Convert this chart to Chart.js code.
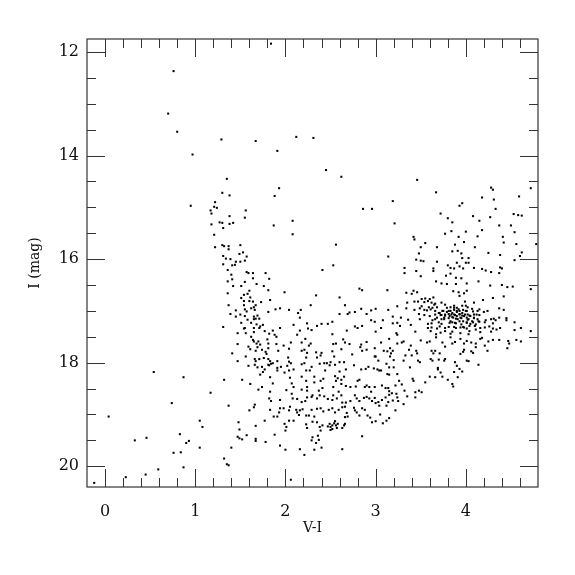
<!DOCTYPE html>
<html>
<head>
<meta charset="utf-8">
<script src="https://cdn.jsdelivr.net/npm/chart.js@4.4.1/dist/chart.umd.min.js"></script>
<style>
  html, body { margin: 0; padding: 0; background: #fff; }
  #wrap { width: 575px; height: 575px; }
</style>
</head>
<body>
<div id="wrap"><canvas id="cmd" width="575" height="575"></canvas></div>
<script>
// bright stars, top of the diagram
const brightVI = [0.76,0.70,0.80,1.29,0.97,1.35,1.84,1.67,2.12,2.31,1.91,2.45,2.62,3.46];
const brightI  = [12.37,13.19,13.54,13.69,13.98,14.45,11.84,13.72,13.64,13.66,13.91,14.28,14.41,14.47];

// blue edge, upper part
const blueUpVI = [1.30,1.38,0.95,1.22,1.21,1.24,1.17,1.18,1.38,1.18,
                  1.27,1.30,1.38,1.42,1.31,1.21,1.22,1.30,1.32,1.37,
                  1.37,1.31,1.34,1.39,1.31,1.41,1.44,1.36,1.40,1.41,
                  1.36,1.42,1.36,1.37,1.45,1.39,1.45,1.31];
const blueUpI  = [14.72,14.77,14.97,14.90,14.99,15.01,15.06,15.12,15.17,15.33,
                  15.29,15.30,15.32,15.30,15.40,15.53,15.77,15.73,15.75,15.75,
                  15.81,15.94,15.99,16.00,16.10,16.12,16.11,16.21,16.30,16.39,
                  16.43,16.52,16.66,16.89,16.99,17.06,17.11,17.31];

// blue edge, faint part
const blueLowVI = [1.47,1.47,1.41,1.47,0.54,0.87,1.32,1.17,0.74,1.37,
                   0.04,1.05,1.08,1.48,1.49,0.83,0.46,0.33,1.47,1.49,
                   0.93,0.90,1.05,1.40,0.76,0.84,1.32,1.35,1.37,0.87,
                   0.59,0.45,0.23,-0.12,2.06];
const blueLowI  = [17.43,17.64,17.82,17.97,18.18,18.28,18.33,18.58,18.78,18.83,
                   19.04,19.12,19.24,19.15,19.29,19.38,19.45,19.50,19.43,19.46,
                   19.51,19.55,19.64,19.64,19.74,19.73,19.85,19.96,19.98,20.02,
                   20.06,20.16,20.21,20.32,20.26];

// middle field, I < 17.4
const midVI = [1.93,1.88,1.56,1.55,2.86,2.96,1.87,2.08,2.08,1.50,
               2.56,1.53,1.49,1.57,1.55,1.45,1.50,3.14,2.53,2.41,
               1.57,1.59,1.64,1.78,1.64,1.82,1.55,1.68,1.51,1.76,
               1.60,1.81,1.58,1.54,1.51,1.99,2.34,2.82,2.85,3.13,
               1.61,1.83,2.60,1.54,1.60,1.64,1.67,1.73,1.54,1.65,
               1.62,1.66,1.55,1.57,1.81,1.89,1.94,2.04,2.28,2.17,
               2.14,2.66,2.84,3.00,2.95,3.14,1.50,1.55,1.65,1.69,
               1.67,1.71,1.65,1.58,2.16,2.77,2.71,2.69,2.60,2.90,
               1.51,1.62,1.68,1.75,1.55,1.54,1.65,1.72,1.71,1.86,
               1.77,1.94,2.09,2.24,2.25,2.29,2.35,2.40,2.47,2.52,
               2.95,2.99,3.08,2.77,2.80,2.85,3.06,2.16,2.68,3.00];
const midI  = [14.63,14.78,15.06,15.20,15.03,15.03,15.35,15.26,15.52,15.73,
               15.72,15.87,15.90,15.95,16.03,16.05,16.05,15.95,16.12,16.21,
               16.25,16.27,16.27,16.27,16.37,16.38,16.44,16.48,16.52,16.52,
               16.61,16.60,16.67,16.69,16.75,16.64,16.70,16.57,16.60,16.60,
               16.74,16.79,16.74,16.81,16.81,16.82,16.89,16.83,16.89,16.93,
               16.95,16.98,16.97,17.01,17.02,16.97,16.95,16.98,16.89,16.98,
               17.04,16.89,16.96,16.96,16.99,16.98,17.07,17.10,17.11,17.09,
               17.15,17.15,17.16,17.17,17.13,17.02,17.03,17.06,17.06,17.06,
               17.23,17.23,17.26,17.27,17.33,17.34,17.33,17.30,17.33,17.38,
               17.39,17.33,17.27,17.24,17.34,17.37,17.29,17.25,17.25,17.21,
               17.18,17.21,17.18,17.30,17.33,17.29,17.33,17.38,17.38,17.40];

// red giants and clump, I < 17.4
const redVI = [4.28,4.30,4.72,3.67,3.19,4.18,4.31,4.59,3.96,3.93,
               4.33,3.72,3.80,4.08,4.27,4.53,4.58,4.62,3.21,3.85,
               4.15,4.37,4.50,4.18,4.54,3.42,3.43,3.77,3.84,4.00,
               3.92,4.13,4.41,3.55,4.42,4.56,4.78,3.50,3.68,3.88,
               3.98,4.10,3.91,3.85,3.48,3.95,4.25,4.38,4.62,4.60,
               3.45,3.50,3.53,3.68,3.96,4.03,4.00,4.03,4.54,3.32,
               3.45,3.64,3.64,3.80,3.83,3.90,3.93,3.87,3.97,4.09,
               4.18,4.22,4.28,4.38,4.40,3.32,4.37,3.83,3.50,3.78,
               3.89,3.95,3.67,3.73,3.79,3.89,4.01,4.14,4.27,4.40,
               4.46,4.52,4.72,3.34,3.42,3.46,3.40,3.86,3.92,4.01,
               3.98,3.93,4.42,4.19,4.30,3.35,3.51,3.55,3.60,3.64,
               3.43,3.47,3.54,3.58,3.62,3.66,3.73,3.99,4.09,3.24,
               3.34,3.49,3.51,3.59,3.63,3.68,3.77,3.83,3.87,3.90,
               3.96,4.00,4.02,4.07,4.15,4.37,4.42,3.43,3.54,3.57,
               3.66,3.71,3.74,3.79,3.83,3.87,3.90,3.93,3.97,4.01,
               4.08,4.13,4.20,4.24,3.19,3.28,3.48,3.54,3.60,3.66,
               3.72,3.77,3.81,3.84,3.88,3.93,3.96,3.99,4.04,4.09,
               4.15,4.28,4.31,4.37,4.45,3.36,3.49,3.63,3.66,3.73,
               3.76,3.81,3.85,3.89,3.95,4.02,4.09,4.13,4.22,4.33,
               4.45,3.19,3.24,3.39,3.27,3.58,3.62,3.70,3.73,3.82,
               3.85,3.89,3.93,4.01,4.05,4.08,4.15,4.21,4.30,4.54,
               4.61,3.58,3.62,3.68,3.71,3.77,3.81,3.87,3.89,3.94,
               3.97,4.01,4.10,4.16,4.21,4.26,4.30,4.34,4.38,4.54,
               4.72,3.44,3.61,3.77,3.85,4.04,4.28];
const redI  = [14.62,14.66,14.63,14.71,14.88,14.81,14.85,14.79,14.92,14.97,
               15.03,15.12,15.21,15.17,15.19,15.13,15.15,15.16,15.31,15.29,
               15.26,15.35,15.35,15.44,15.48,15.57,15.62,15.51,15.46,15.47,
               15.57,15.56,15.57,15.69,15.68,15.71,15.71,15.77,15.77,15.72,
               15.67,15.77,15.84,15.85,15.89,15.89,15.88,15.92,15.87,15.94,
               16.01,16.03,16.04,16.05,15.98,15.98,16.07,16.07,16.02,16.17,
               16.23,16.18,16.23,16.12,16.17,16.07,16.14,16.18,16.18,16.17,
               16.19,16.22,16.25,16.16,16.18,16.27,16.27,16.28,16.33,16.32,
               16.36,16.37,16.43,16.47,16.48,16.48,16.47,16.43,16.51,16.50,
               16.54,16.53,16.58,16.65,16.61,16.64,16.67,16.62,16.64,16.61,
               16.66,16.71,16.72,16.79,16.75,16.84,16.77,16.76,16.77,16.74,
               16.82,16.82,16.83,16.81,16.84,16.86,16.84,16.82,16.84,16.91,
               16.95,16.95,16.91,16.93,16.94,16.93,16.88,16.93,16.90,16.94,
               16.90,16.90,16.93,16.96,16.97,16.95,16.98,16.98,16.98,16.99,
               17.00,17.04,17.00,17.02,17.00,16.98,17.02,17.00,16.98,17.00,
               17.01,17.00,17.02,17.00,17.11,17.13,17.06,17.08,17.10,17.07,
               17.08,17.09,17.06,17.07,17.08,17.07,17.09,17.07,17.09,17.07,
               17.08,17.16,17.15,17.13,17.14,17.17,17.16,17.18,17.16,17.16,
               17.13,17.14,17.12,17.15,17.14,17.17,17.14,17.16,17.18,17.18,
               17.18,17.24,17.23,17.27,17.29,17.25,17.24,17.22,17.25,17.23,
               17.22,17.24,17.20,17.22,17.25,17.22,17.21,17.22,17.24,17.22,
               17.33,17.33,17.32,17.34,17.30,17.33,17.31,17.31,17.33,17.32,
               17.31,17.34,17.29,17.33,17.32,17.30,17.34,17.36,17.33,17.37,
               17.39,17.40,17.39,17.39,17.40,17.39,17.40];

// extra stars in the crowded core of the red clump
const clumpVI = [3.70,3.73,3.75,3.77,3.79,3.81,3.82,3.83,3.85,3.86,
                 3.87,3.87,3.88,3.90,3.90,3.91,3.92,3.93,3.94,3.95,
                 3.96,3.97,3.98,3.98,4.00,4.01,4.01,4.02,4.03,4.04,
                 4.05,4.07,4.09,4.11,4.12,4.14,3.68,3.76,3.61,3.65];
const clumpI  = [17.04,17.08,17.00,17.07,16.94,17.00,17.10,17.20,17.04,17.13,
                 16.94,17.07,17.23,17.00,17.10,17.16,16.97,17.06,17.13,17.26,
                 17.04,17.20,17.10,17.32,17.00,17.13,17.23,17.07,17.16,17.29,
                 17.10,17.20,17.13,17.26,17.07,17.20,17.13,17.16,16.97,16.88];

// faint middle field, I > 17.4
const faintVI = [1.56,1.65,1.82,1.88,1.90,2.13,2.22,2.52,2.64,1.62,
                 1.64,1.65,1.68,1.70,1.72,1.80,1.81,1.90,1.98,2.06,
                 2.18,2.28,2.53,2.56,2.66,2.71,2.84,2.90,3.06,3.15,
                 1.59,1.61,1.67,1.69,1.74,1.78,1.81,1.79,1.92,2.03,
                 2.04,2.18,2.21,2.24,2.26,2.23,2.34,2.39,2.35,2.40,
                 2.52,2.54,2.62,2.74,2.83,2.85,2.90,2.99,3.00,3.09,
                 1.56,1.66,1.67,1.71,1.76,1.81,1.83,1.86,1.82,1.84,
                 1.91,1.95,2.04,1.59,1.66,1.69,1.74,1.77,1.75,1.72,
                 1.81,1.91,1.91,1.99,2.02,2.04,2.09,2.06,2.18,2.21,
                 2.23,2.27,2.18,2.29,2.32,2.38,2.43,2.46,2.49,2.44,
                 2.50,2.55,2.60,2.65,2.67,2.55,2.58,2.62,2.65,2.60,
                 2.76,2.84,2.89,2.92,2.98,3.02,3.04,3.06,3.03,2.99,
                 3.12,3.15,1.52,1.83,1.86,1.74,1.70,1.61,2.05,2.07,
                 2.09,2.18,2.23,2.24,2.24,2.32,2.39,2.42,2.41,2.37,
                 2.53,2.56,2.62,2.67,2.59,2.72,2.80,2.82,2.78,2.88,
                 2.90,2.93,2.99,2.95,3.07,3.11,3.14,3.15,1.83,1.82,
                 1.84,1.94,2.01,2.07,2.08,2.13,2.18,2.22,2.24,2.29,
                 2.30,2.35,2.38,2.43,2.47,2.52,2.53,2.57,2.62,2.63,
                 2.67,2.72,2.77,2.79,2.82,2.87,2.90,2.93,2.96,2.99,
                 3.00,3.03,3.04,3.07,3.11,3.14,3.15,1.60,1.65,1.66,
                 1.77,1.83,1.91,1.94,1.93,1.98,2.04,2.05,2.09,2.12,
                 2.13,2.16,2.15,2.19,2.23,2.26,2.29,2.32,2.35,2.39,
                 2.42,2.48,2.52,2.55,2.59,2.63,2.66,2.68,2.69,2.66,
                 2.76,2.77,2.79,2.82,2.85,2.88,2.91,2.94,2.96,3.00,
                 3.05,3.08,3.12,3.15,1.67,1.87,1.99,2.00,2.01,2.04,
                 2.23,2.24,2.30,2.35,2.38,2.39,2.41,2.47,2.49,2.50,
                 2.52,2.54,2.55,2.56,2.58,2.65,2.66,2.50,2.52,2.57,
                 2.63,1.52,1.57,1.67,1.67,1.78,1.88,2.30,2.36,2.37,
                 2.29,2.34,1.94,2.00,2.16,2.32,2.21,2.40,2.63,2.85];
const faintI  = [17.43,17.41,17.44,17.46,17.50,17.46,17.54,17.45,17.55,17.50,
                 17.56,17.59,17.63,17.59,17.65,17.55,17.63,17.64,17.67,17.61,
                 17.61,17.63,17.64,17.63,17.61,17.64,17.65,17.60,17.61,17.54,
                 17.69,17.74,17.77,17.70,17.75,17.79,17.72,17.83,17.77,17.90,
                 17.73,17.77,17.75,17.81,17.67,17.90,17.80,17.86,17.90,17.81,
                 17.78,17.88,17.74,17.84,17.70,17.77,17.75,17.72,17.88,17.77,
                 17.88,17.93,17.97,17.93,17.91,17.93,17.97,18.01,18.05,18.02,
                 17.97,18.08,17.98,18.06,18.04,18.09,18.08,18.13,18.18,18.23,
                 18.04,18.15,18.10,18.19,18.06,18.15,18.13,18.01,18.03,18.01,
                 18.15,18.15,18.27,18.08,18.27,18.02,18.01,18.01,18.05,18.15,
                 17.99,18.04,17.99,17.99,18.13,18.26,18.30,18.33,18.27,18.17,
                 18.05,18.13,18.12,18.08,18.11,18.13,18.15,18.15,17.96,17.88,
                 18.02,18.09,18.33,18.28,18.40,18.47,18.52,18.41,18.29,18.40,
                 18.47,18.52,18.35,18.47,18.54,18.38,18.35,18.31,18.49,18.54,
                 18.47,18.35,18.41,18.45,18.56,18.47,18.35,18.33,18.46,18.47,
                 18.44,18.47,18.47,18.56,18.44,18.49,18.49,18.55,18.56,18.69,
                 18.74,18.72,18.53,18.60,18.69,18.70,18.76,18.74,18.67,18.66,
                 18.63,18.69,18.63,18.65,18.70,18.72,18.63,18.69,18.63,18.77,
                 18.77,18.74,18.63,18.69,18.74,18.68,18.66,18.69,18.74,18.68,
                 18.78,18.76,18.83,18.72,18.67,18.76,18.62,18.92,18.86,18.81,
                 19.12,18.91,19.04,18.88,18.96,18.88,18.92,18.85,19.12,18.91,
                 18.96,18.92,19.01,18.90,19.02,19.02,18.91,19.04,18.89,18.88,
                 18.94,18.91,18.88,18.96,18.91,18.86,18.85,18.97,19.04,19.05,
                 18.87,18.92,18.96,19.02,18.88,18.91,19.02,19.06,19.15,19.13,
                 19.00,19.17,19.12,19.07,19.22,19.04,19.18,19.31,19.24,19.12,
                 19.19,19.26,19.14,19.15,19.24,19.31,19.21,19.23,19.18,19.24,
                 19.21,19.17,19.13,19.21,19.18,19.21,19.18,19.30,19.28,19.26,
                 19.26,19.48,19.40,19.47,19.51,19.53,19.39,19.44,19.41,19.49,
                 19.50,19.55,19.60,19.68,19.67,19.68,19.78,19.64,19.67,19.42];

// lower red giant branch, I > 17.4
const rgbVI = [3.23,3.24,3.67,3.72,3.83,3.94,4.11,4.16,3.29,3.31,
               3.24,3.16,3.13,3.19,3.17,3.16,3.20,3.50,3.57,3.60,
               3.67,3.74,3.83,3.88,3.77,3.85,3.94,3.98,4.01,4.03,
               4.06,4.11,4.16,4.18,4.21,4.24,4.25,4.30,4.37,4.47,
               4.48,4.46,4.56,4.61,3.39,3.37,3.40,3.45,3.46,3.47,
               3.49,3.31,3.33,3.62,3.64,3.66,3.71,3.70,3.77,3.76,
               3.88,3.94,3.97,3.98,4.01,4.03,4.06,4.08,4.11,4.14,
               3.61,3.63,3.38,3.20,3.15,3.13,3.24,3.26,3.22,3.18,
               3.23,3.24,3.25,3.19,3.12,3.22,3.29,3.32,3.35,3.31,
               3.41,3.42,3.44,3.44,3.48,3.51,3.55,3.60,3.66,3.69,
               3.69,3.72,3.74,3.80,3.85,3.86,3.90,3.87,3.93,3.96,
               3.91];
const rgbI  = [17.43,17.46,17.45,17.42,17.44,17.43,17.36,17.41,17.61,17.59,
               17.63,17.72,17.78,17.77,17.82,17.88,17.95,17.57,17.61,17.59,
               17.51,17.61,17.51,17.60,17.69,17.63,17.54,17.63,17.58,17.45,
               17.61,17.63,17.54,17.52,17.67,17.77,17.59,17.56,17.56,17.58,
               17.63,17.72,17.56,17.59,17.67,17.75,17.86,17.77,17.82,17.96,
               17.99,17.96,17.86,17.77,17.82,17.77,17.82,17.94,17.93,17.96,
               17.99,17.83,17.79,17.75,17.96,17.97,17.78,17.81,17.70,18.04,
               17.93,17.96,18.09,18.09,18.23,18.22,18.22,18.35,18.44,18.59,
               18.60,18.67,18.74,18.73,18.83,18.92,18.42,18.54,18.65,18.80,
               18.31,18.35,18.57,18.67,18.54,18.57,18.38,18.27,18.28,18.13,
               18.10,18.19,18.27,18.33,18.41,18.46,18.06,18.18,18.12,18.17,
               18.28];

const xMin = -0.2, xMax = 4.8;
const yMin = 11.75, yMax = 20.4;
const xTickLabels = [0, 1, 2, 3, 4];
const yTickLabels = [12, 14, 16, 18, 20];
const xMinorStep = 0.2, yMinorStep = 0.5;

const allVI = [].concat(brightVI, blueUpVI, blueLowVI, midVI, redVI, clumpVI, faintVI, rgbVI);
const allI  = [].concat(brightI, blueUpI, blueLowI, midI, redI, clumpI, faintI, rgbI);
const points = allVI.map((v, i) => ({x: v, y: allI[i]}));

// box frame with inward ticks on all four sides
const frameTicks = {
    id: 'frameTicks',
    afterDraw(chart) {
        const {ctx, chartArea: a, scales: {x, y}} = chart;
        ctx.save();
        ctx.strokeStyle = '#333';
        ctx.lineWidth = 1.2;
        ctx.strokeRect(a.left, a.top, a.right - a.left, a.bottom - a.top);
        ctx.lineWidth = 1;
        ctx.beginPath();
        const nx = Math.round((xMax - xMin) / xMinorStep);
        for (let i = 1; i < nx; i++) {
            const v = +(xMin + i * xMinorStep).toFixed(3);
            const len = xTickLabels.includes(v) ? 18 : 9;
            const px = Math.round(x.getPixelForValue(v)) + 0.5;
            ctx.moveTo(px, a.bottom); ctx.lineTo(px, a.bottom - len);
            ctx.moveTo(px, a.top); ctx.lineTo(px, a.top + len);
        }
        for (let v = yTickLabels[0]; v <= yTickLabels[yTickLabels.length - 1] + 1e-6; v += yMinorStep) {
            const len = yTickLabels.includes(v) ? 18 : 9;
            const py = Math.round(y.getPixelForValue(v)) + 0.5;
            ctx.moveTo(a.left, py); ctx.lineTo(a.left + len, py);
            ctx.moveTo(a.right, py); ctx.lineTo(a.right - len, py);
        }
        ctx.stroke();
        ctx.restore();
    }
};

const labelFont = {family: 'DejaVu Serif', size: 16};
const titleFont = {family: 'DejaVu Serif', size: 14};

new Chart(document.getElementById('cmd'), {
    type: 'scatter',
    data: {
        datasets: [{
            data: points,
            pointStyle: 'rect',
            pointRadius: 1.45,
            pointBorderWidth: 0,
            pointBackgroundColor: '#000',
            showLine: false
        }]
    },
    options: {
        responsive: false,
        animation: false,
        events: [],
        layout: {padding: {top: 39, right: 37, left: 0, bottom: 0}},
        plugins: {legend: {display: false}, tooltip: {enabled: false}},
        scales: {
            x: {
                type: 'linear', position: 'bottom', min: xMin, max: xMax,
                grid: {display: false, drawTicks: false},
                border: {display: false},
                afterBuildTicks: s => { s.ticks = xTickLabels.map(v => ({value: v})); },
                afterFit: s => { s.height = 88; },
                ticks: {font: labelFont, color: '#111', padding: 15, maxRotation: 0},
                title: {display: true, text: 'V-I', font: titleFont, color: '#111', padding: {top: 0, bottom: 38}}
            },
            y: {
                type: 'linear', position: 'left', min: yMin, max: yMax, reverse: true,
                grid: {display: false, drawTicks: false},
                border: {display: false},
                afterBuildTicks: s => { s.ticks = yTickLabels.map(v => ({value: v})); },
                afterFit: s => { s.width = 87; },
                ticks: {font: labelFont, color: '#111', padding: 8},
                title: {display: true, text: 'I (mag)', font: titleFont, color: '#111', padding: {top: 27, bottom: 0}}
            }
        }
    },
    plugins: [frameTicks]
});
</script>
</body>
</html>
